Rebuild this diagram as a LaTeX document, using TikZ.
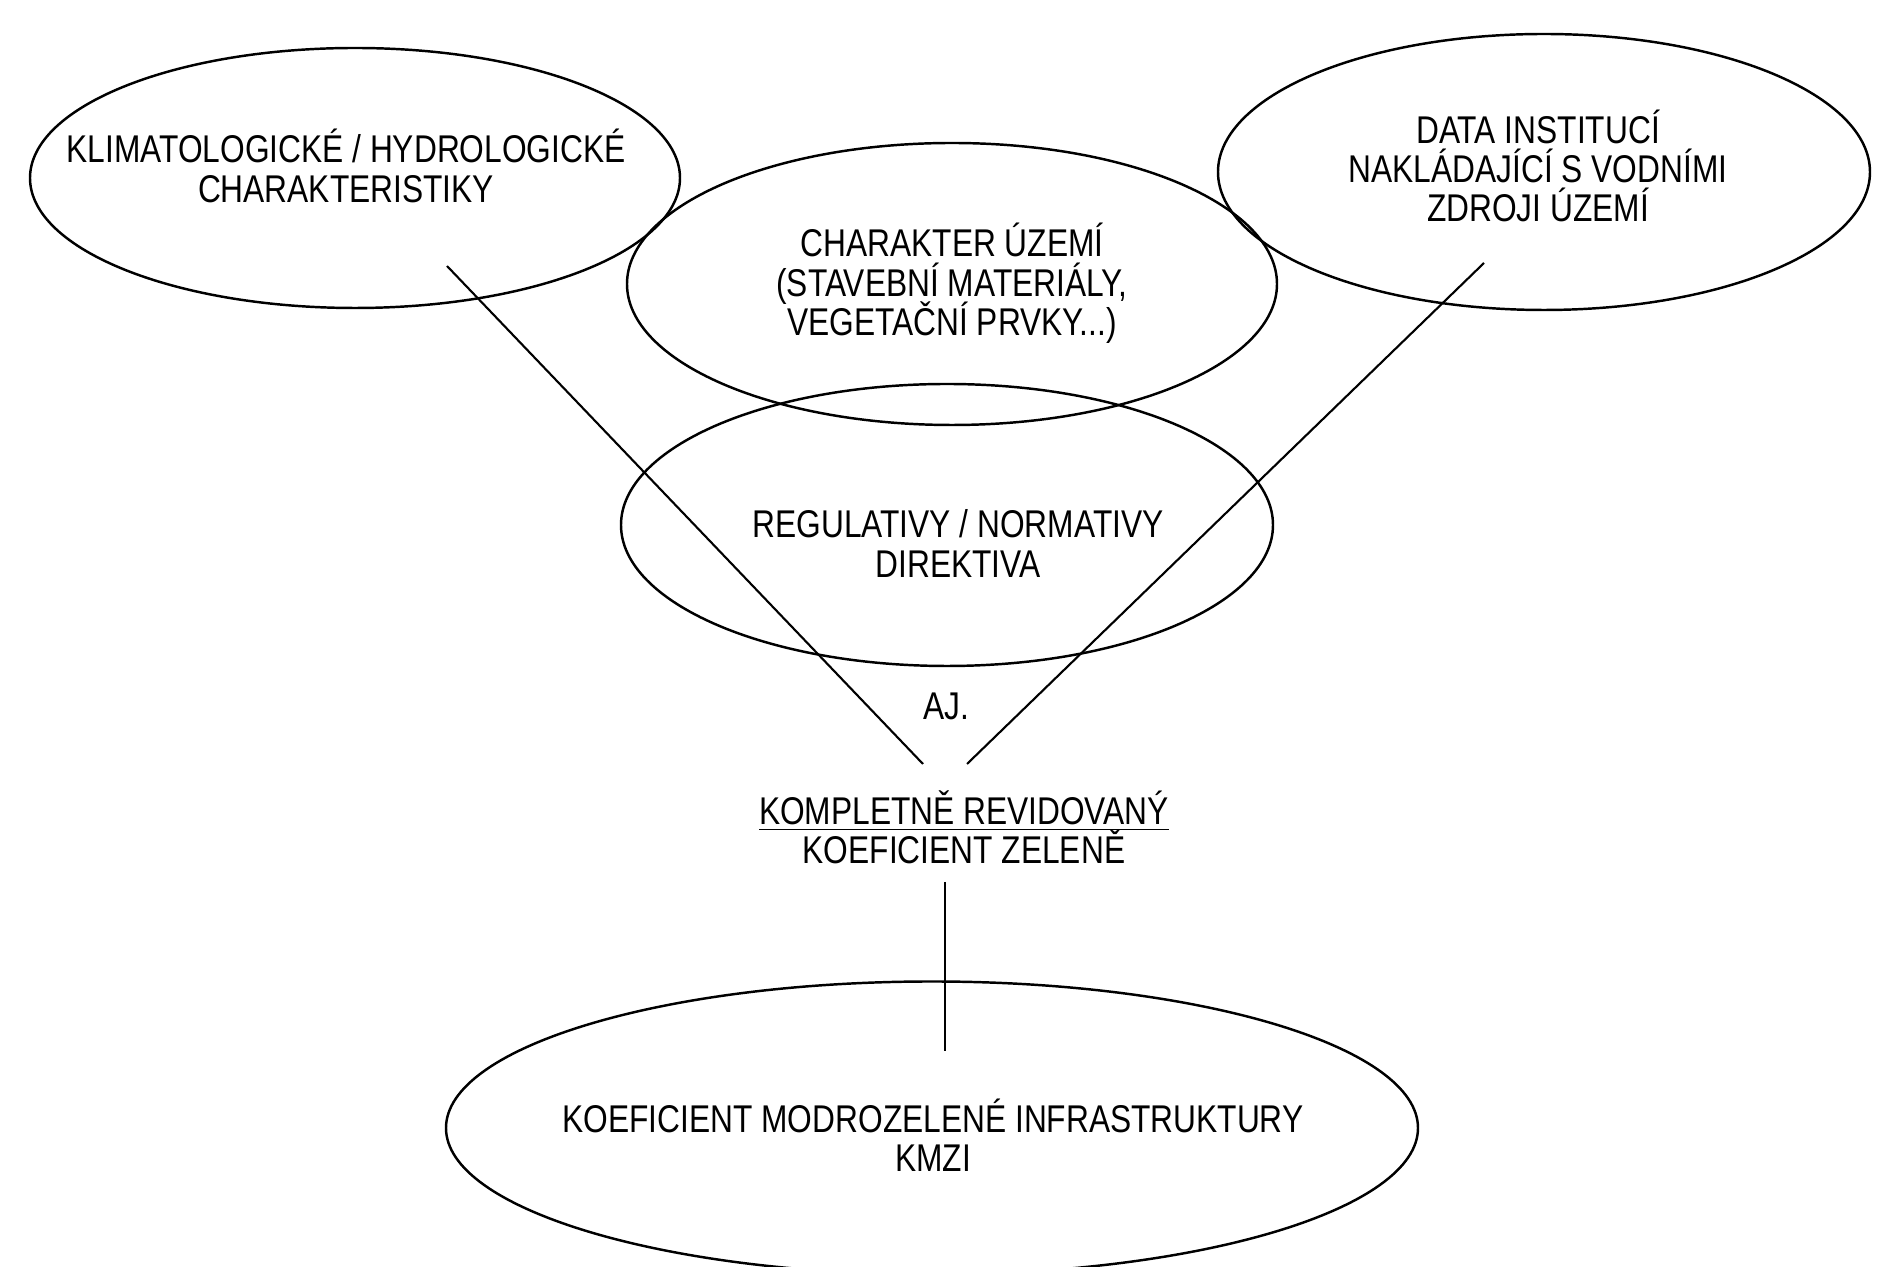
\documentclass[tikz,border=0pt]{standalone}
\usepackage{fontspec}
\setmainfont[FakeStretch=0.82]{Liberation Sans}
\usepackage{tikz}
\usetikzlibrary{shapes.geometric}

\begin{document}
\begin{tikzpicture}
      \tikzstyle{bubble}=[draw,ellipse,line width=0.7pt,inner sep=0pt]
      \tikzstyle{txt}=[align=center,inner sep=0pt,font={\fontsize{11}{11.2}\selectfont\lineskiplimit=-20pt}]
      \tikzstyle{link}=[line width=0.6pt]
      \useasboundingbox (0,0) rectangle (18.95,12.67);
      %%% inputs
      \node (klima) at (3.55,10.89) [bubble,minimum width=6.5cm,minimum height=2.6cm] {};
      \node (klimatext) at (3.46,11.01) [txt] {KLIMATOLOGICKÉ / HYDROLOGICKÉ\\CHARAKTERISTIKY};
      \node (uzemi) at (9.52,9.83) [bubble,minimum width=6.5cm,minimum height=2.82cm] {};
      \node (uzemitext) at (9.52,9.835) [txt] {CHARAKTER ÚZEMÍ\\(STAVEBNÍ MATERIÁLY,\\VEGETAČNÍ PRVKY...)};
      \node (data) at (15.44,10.95) [bubble,minimum width=6.52cm,minimum height=2.76cm] {};
      \node (datatext) at (15.38,11.01) [txt] {DATA INSTITUCÍ\\NAKLÁDAJÍCÍ S VODNÍMI\\ZDROJI ÚZEMÍ};
      \node (regul) at (9.47,7.42) [bubble,minimum width=6.52cm,minimum height=2.82cm] {};
      \node (regultext) at (9.58,7.235) [txt] {REGULATIVY / NORMATIVY\\DIREKTIVA};
      \node (aj) at (9.46,5.61) [txt] {AJ.};
      %%% result
      \node (kz) at (9.64,4.40) [txt] {\underline{KOMPLETNĚ REVIDOVANÝ}\\KOEFICIENT ZELENĚ};
      \node (kmzi) at (9.32,1.39) [bubble,minimum width=9.72cm,minimum height=2.93cm] {};
      \node (kmzitext) at (9.33,1.32) [txt] {KOEFICIENT MODROZELENÉ INFRASTRUKTURY\\KMZI};
      %%% funnel
      \coordinate (lefttop) at (4.47,10.01);
      \coordinate (leftend) at (9.23,5.03);
      \coordinate (righttop) at (14.84,10.04);
      \coordinate (rightend) at (9.67,5.03);
      \coordinate (stemtop) at (9.45,3.85);
      \coordinate (stemend) at (9.45,2.16);
      \draw[link] (lefttop) -- (leftend);
      \draw[link] (righttop) -- (rightend);
      \draw[link] (stemtop) -- (stemend);
\end{tikzpicture}
\end{document}
